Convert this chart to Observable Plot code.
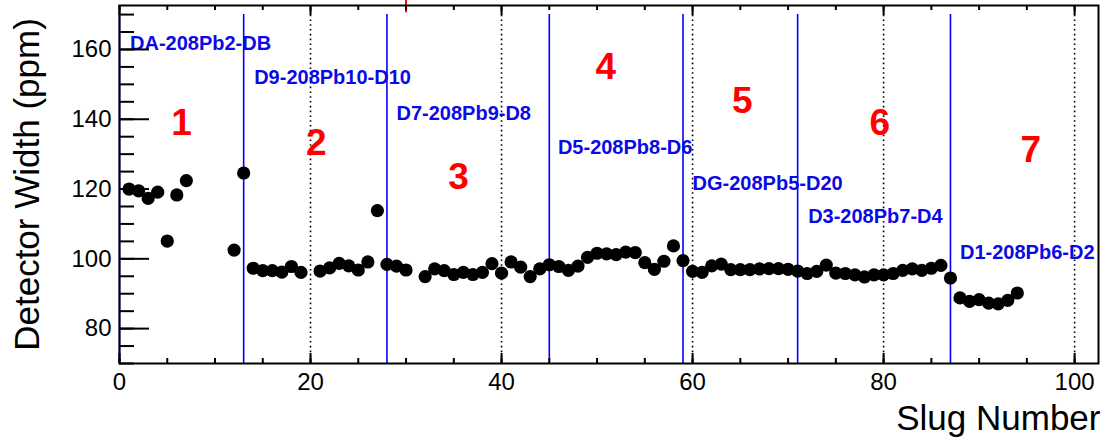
<!DOCTYPE html>
<html>
<head>
<meta charset="utf-8">
<script src="https://cdn.jsdelivr.net/npm/d3@7"></script>
<script src="https://cdn.jsdelivr.net/npm/@observablehq/plot@0.6"></script>
<style>
  html, body { margin: 0; padding: 0; background: white; }
  #chart svg { display: block; }
</style>
</head>
<body>
<div id="chart"></div>
<script>
// ---- data ----
const slugs = [1,2,3,4,5,6,7,12,13,14,15,16,17,18,19,21,22,23,24,25,26,27,28,29,30,
  32,33,34,35,36,37,38,39,40,41,42,43,44,45,46,47,48,49,50,51,52,53,54,55,56,57,58,59,
  60,61,62,63,64,65,66,67,68,69,70,71,72,73,74,75,76,77,78,79,80,81,82,83,84,85,86,87,
  88,89,90,91,92,93,94];
const widths = [120.0,119.5,117.3,119.1,105.1,118.3,122.4,102.5,124.6,97.3,96.6,96.6,96.2,97.8,96.1,
  96.5,97.4,98.7,98.0,96.8,99.1,113.8,98.4,97.9,96.8,
  94.9,97.1,96.6,95.5,96.1,95.5,96.1,98.6,95.9,99.1,97.6,94.9,97.1,98.3,97.8,96.7,97.9,100.4,
  101.6,101.4,101.2,101.9,101.8,98.9,97.0,99.3,103.7,99.5,
  96.4,96.1,98.0,98.5,96.9,96.9,96.9,97.1,97.2,97.2,97.0,96.5,95.8,96.4,98.2,95.9,95.8,95.4,
  94.8,95.4,95.4,95.8,96.7,97.1,96.7,97.3,98.1,94.5,
  88.8,87.8,88.3,87.3,87.1,88.1,90.2];

// run-period boundaries (blue lines) and their labels
const boundaries = [0, 13, 28, 45, 59, 71, 87];
const targetLabels = ["DA-208Pb2-DB","D9-208Pb10-D10","D7-208Pb9-D8","D5-208Pb8-D6",
  "DG-208Pb5-D20","D3-208Pb7-D4","D1-208Pb6-D2"];
const targetLabelY = [161.7, 151.9, 141.7, 132.0, 121.7, 112.1, 101.9];
const targetLabelX = [1.1, 14.1, 29.0, 45.9, 60.0, 72.1, 88.0];

// period numbers (red)
const periodNames = ["1","2","3","4","5","6","7"];
const periodX = [6.5, 20.6, 35.5, 50.9, 65.2, 79.6, 95.4];
const periodY = [138.9, 133.1, 123.3, 154.9, 145.1, 138.9, 131.1];

// axes
const xDomain = [0, 102.5];
const yDomain = [70, 172.6];
const xMajor = [0, 20, 40, 60, 80, 100];
const xMinor = d3.range(0, 102, 5);
const yMajor = [80, 100, 120, 140, 160];
const yMinor = d3.range(70, 171, 5);
const xGrid = [20, 40, 60, 80, 100];
const redMarkX = [30];

// ---- layout ----
const W = 1106, H = 445;
const mL = 119, mR = 8, mT = 5, mB = 82;
const pw = W - mL - mR, ph = H - mT - mB;

const points = slugs.map((s, i) => ({slug: s, w: widths[i]}));
const tLabels = targetLabels.map((t, i) => ({t, x: targetLabelX[i], y: targetLabelY[i]}));
const pLabels = periodNames.map((t, i) => ({t, x: periodX[i], y: periodY[i]}));

const font = "'Liberation Sans', Arial, Helvetica, sans-serif";

const chart = Plot.plot({
  width: W, height: H,
  marginLeft: mL, marginRight: mR, marginTop: mT, marginBottom: mB,
  x: {domain: xDomain},
  y: {domain: yDomain},
  style: {fontFamily: font, background: "white", color: "black"},
  marks: [
    Plot.ruleX(xGrid, {x: d => d, stroke: "black", strokeWidth: 1.6, strokeDasharray: "1.6,3.2"}),
    Plot.ruleX(boundaries, {x: d => d, y1: 70, y2: 170, stroke: "#0000ff", strokeWidth: 1.6}),
    Plot.ruleX(redMarkX, {x: d => d, y1: 170.5, y2: 174.5, stroke: "red", strokeWidth: 2, clip: false}),
    Plot.dot(points, {x: "slug", y: "w", r: 6.6, fill: "black", stroke: "none"}),
    Plot.text(tLabels, {x: "x", y: "y", text: "t", textAnchor: "start", lineAnchor: "middle",
      fill: "#0a0ae6", fontSize: 20, fontWeight: "bold"}),
    Plot.text(pLabels, {x: "x", y: "y", text: "t", textAnchor: "middle", lineAnchor: "middle",
      fill: "#ff0000", fontSize: 37, fontWeight: "bold"}),
    Plot.frame({stroke: "black", strokeWidth: 2}),
    // inward tick marks
    Plot.ruleY(yMinor, {y: d => d, insetRight: pw - 15, stroke: "black", strokeWidth: 2}),
    Plot.ruleY(yMajor, {y: d => d, insetRight: pw - 30, stroke: "black", strokeWidth: 2}),
    Plot.ruleX(xMinor, {x: d => d, insetTop: ph - 5, stroke: "black", strokeWidth: 2}),
    Plot.ruleX(xMajor, {x: d => d, insetTop: ph - 10, stroke: "black", strokeWidth: 2}),
    Plot.ruleX(xMinor, {x: d => d, insetBottom: ph - 5, stroke: "black", strokeWidth: 2}),
    Plot.ruleX(xMajor, {x: d => d, insetBottom: ph - 10, stroke: "black", strokeWidth: 2}),
    // tick labels
    Plot.axisY({ticks: yMajor, tickSize: 0, tickPadding: 8, fontSize: 24, label: null, tickFormat: d => String(d)}),
    Plot.axisX({ticks: xMajor, tickSize: 0, tickPadding: 9, fontSize: 24, label: null, tickFormat: d => String(d)}),
    // axis titles
    Plot.text(["Detector Width (ppm)"], {frameAnchor: "left", text: d => d, rotate: -90,
      dx: -92, lineAnchor: "middle", textAnchor: "middle", fontSize: 35, fill: "black"}),
    Plot.text(["Slug Number"], {frameAnchor: "bottom-right", text: d => d, dx: 2, dy: 55,
      lineAnchor: "middle", textAnchor: "end", fontSize: 35, fill: "black"})
  ]
});
document.getElementById("chart").appendChild(chart);
</script>
</body>
</html>
